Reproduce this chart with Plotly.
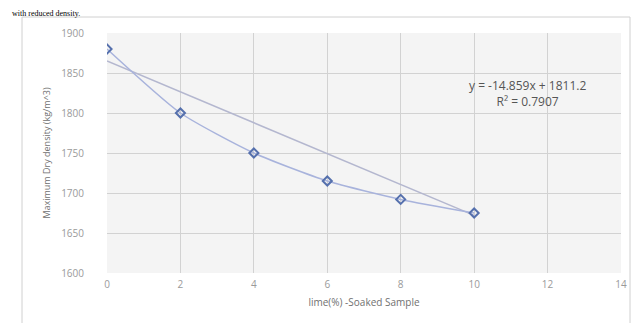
import plotly.graph_objects as go

lime_pct = [0, 2, 4, 6, 8, 10]
max_dry_density = [1880, 1800, 1750, 1715, 1692, 1675]
trend_x = [0, 10]
trend_y = [1865, 1672]
x_ticks = [0, 2, 4, 6, 8, 10, 12, 14]
y_ticks = [1600, 1650, 1700, 1750, 1800, 1850, 1900]

W, H = 639, 323
L, R, T, B = 99, 26, 25, 58
pw, ph = W - L - R, H - T - B

def px(xp):
    return (xp - L) / pw

def py(yp):
    return (H - B - yp) / ph

fig = go.Figure()
fig.add_trace(go.Scatter(x=trend_x, y=trend_y, mode="lines",
                         line=dict(color="#b4b7cf", width=1.5), hoverinfo="skip"))
fig.add_trace(go.Scatter(x=lime_pct, y=max_dry_density, mode="lines+markers",
                         line=dict(color="#a8b3dc", width=1.5, shape="spline", smoothing=0.6),
                         marker=dict(symbol="diamond-open", size=7, color="#5570ad",
                                     line=dict(width=2, color="#5570ad"))))

fig.update_layout(
    width=W, height=H, showlegend=False,
    margin=dict(l=L, r=R, t=T, b=B),
    paper_bgcolor="white", plot_bgcolor="#f4f4f4",
    font=dict(family="Open Sans, Arial", color="#888888"),
    xaxis=dict(range=[0, 14], tickvals=x_ticks, showgrid=True, gridcolor="#d2d2d2",
               zeroline=False, tickfont=dict(size=10, color="#9a9a9a"), ticks="",
               ticklabelstandoff=4,
               title=dict(text="lime(%) -Soaked Sample", font=dict(size=10, color="#707070"),
                          standoff=8)),
    yaxis=dict(range=[1600, 1900], tickvals=y_ticks, showgrid=True, gridcolor="#d2d2d2",
               zeroline=False, tickfont=dict(size=10, color="#9a9a9a"), ticks="",
               ticklabelstandoff=22,
               title=dict(text="Maximum Dry density (kg/m^3)", font=dict(size=9, color="#707070"),
                          standoff=8)),
    shapes=[dict(type="rect", xref="paper", yref="paper",
                 x0=px(14), x1=px(622), y0=py(335), y1=py(9),
                 line=dict(color="#d0d0d0", width=1), fillcolor="rgba(0,0,0,0)", layer="below")],
    annotations=[
        dict(text="y = -14.859x + 1811.2<br>R² = 0.7907", xref="x", yref="y",
             x=11.45, y=1825, showarrow=False, align="center",
             font=dict(size=12, color="#555555")),
        dict(text="with reduced density.", xref="paper", yref="paper",
             x=px(2), y=py(-1), xanchor="left", yanchor="top", showarrow=False,
             font=dict(family="Liberation Serif", size=8, color="#000000")),
    ],
)

fig.write_html("out.html")
